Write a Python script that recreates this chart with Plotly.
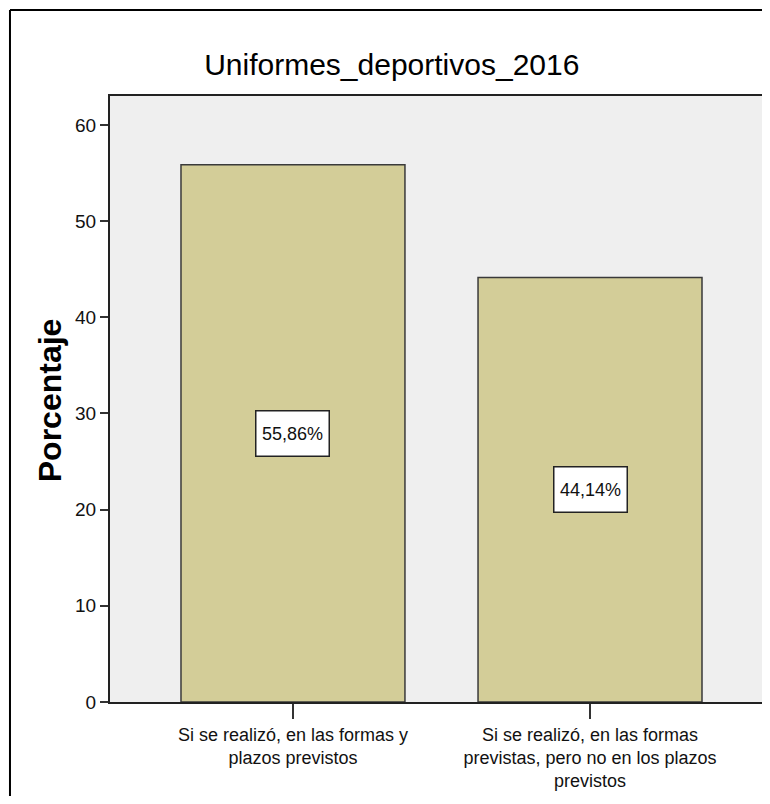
import plotly.graph_objects as go

categories = [
    "Si se realizó, en las formas y<br>plazos previstos",
    "Si se realizó, en las formas<br>previstas, pero no en los plazos<br>previstos",
]
percentages = [55.86, 44.14]
bar_labels = ["55,86%", "44,14%"]
y_ticks = [0, 10, 20, 30, 40, 50, 60]

FONT = "Liberation Sans, Arial, sans-serif"
x_idx = list(range(len(categories)))

fig = go.Figure()
fig.add_trace(go.Bar(
    x=x_idx, y=percentages, width=0.754,
    marker=dict(color="#D3CD98", line=dict(color="#3a3a3a", width=1.5)),
    hoverinfo="skip", showlegend=False,
))

for xi, v, lab in zip(x_idx, percentages, bar_labels):
    fig.add_annotation(
        x=xi, y=v / 2, text=lab, showarrow=False,
        font=dict(family=FONT, size=18, color="#111"),
        width=66, height=38,
        bgcolor="white", bordercolor="#222", borderwidth=1.5, borderpad=3,
    )

fig.add_annotation(
    xref="paper", yref="paper", x=-0.092, y=0.498, text="<b>Porcentaje</b>",
    textangle=-90, showarrow=False, xanchor="center", yanchor="middle",
    font=dict(family=FONT, size=32, color="#000"),
)

# outer frame
fig.add_shape(type="line", xref="paper", yref="paper", x0=-0.1534, x1=-0.1534, y0=1.1419, y1=-0.2,
              line=dict(color="#000", width=2))
fig.add_shape(type="line", xref="paper", yref="paper", x0=-0.1534, x1=1.1, y0=1.1419, y1=1.1419,
              line=dict(color="#000", width=2))

fig.update_layout(
    width=754, height=788,
    margin=dict(l=102, r=0, t=88, b=94),
    paper_bgcolor="white", plot_bgcolor="#EFEFEF",
    title=dict(text="Uniformes_deportivos_2016", xref="container", x=0.509, xanchor="center",
               yref="container", y=0.9277, yanchor="middle",
               font=dict(family=FONT, size=30, color="#000")),
    xaxis=dict(
        range=[-0.616, 1.579], tickmode="array", tickvals=x_idx, ticktext=categories,
        ticks="outside", ticklen=15, tickwidth=2, tickcolor="#333",
        showline=True, linecolor="#222", linewidth=2, mirror=True, showgrid=False,
        zeroline=False, tickfont=dict(family=FONT, size=18, color="#111"),
    ),
    yaxis=dict(
        range=[0, 63], tickmode="array", tickvals=y_ticks,
        ticks="outside", ticklen=8, tickwidth=2, tickcolor="#333",
        showline=True, linecolor="#222", linewidth=2, mirror=False, showgrid=False,
        zeroline=False, tickfont=dict(family=FONT, size=19, color="#111"),
    ),
)

fig.write_html("out.html")
